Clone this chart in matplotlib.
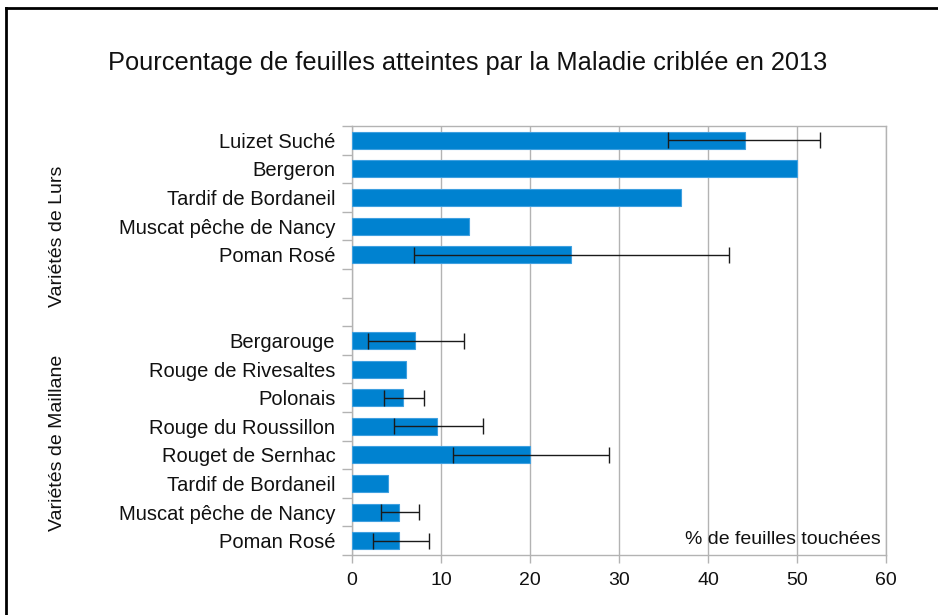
import matplotlib
matplotlib.use("Agg")
import matplotlib.pyplot as plt
import numpy as np
from matplotlib.lines import Line2D

plt.rcParams['font.family'] = ['Liberation Sans', 'DejaVu Sans']

categories = ["Luizet Suché", "Bergeron", "Tardif de Bordaneil", "Muscat pêche de Nancy",
              "Poman Rosé", "", "", "Bergarouge", "Rouge de Rivesaltes", "Polonais",
              "Rouge du Roussillon", "Rouget de Sernhac", "Tardif de Bordaneil",
              "Muscat pêche de Nancy", "Poman Rosé"]
values = [44.2, 50.0, 37.0, 13.1, 24.6, np.nan, np.nan, 7.1, 6.1, 5.7, 9.6, 20.0, 4.0, 5.3, 5.3]
err_low = [8.7, np.nan, np.nan, np.nan, 17.6, np.nan, np.nan, 5.3, np.nan, 2.1, 4.9, 8.7, np.nan, 2.0, 2.9]
err_high = [8.4, np.nan, np.nan, np.nan, 17.8, np.nan, np.nan, 5.5, np.nan, 2.4, 5.1, 8.9, np.nan, 2.2, 3.4]
xticks = [0, 10, 20, 30, 40, 50, 60]
title = "Pourcentage de feuilles atteintes par la Maladie criblée en 2013"
groups = ["Variétés de Lurs", "Variétés de Maillane"]
note = "% de feuilles touchées"

W, H = 938, 615
fig = plt.figure(figsize=(W / 100, H / 100), dpi=100)
ax = fig.add_axes([352 / W, 1 - 555 / H, (886 - 352) / W, (555 - 126) / H])

n = len(categories)
y = np.arange(n)
vals = np.array(values, dtype=float)
has = ~np.isnan(vals)
ax.barh(y[has], vals[has], height=0.6, color="#0082D0", edgecolor="#3FA0E0", linewidth=0.8, zorder=3)
el = np.array(err_low, dtype=float)
eh = np.array(err_high, dtype=float)
m = ~np.isnan(el)
ax.errorbar(vals[m], y[m], xerr=[el[m], eh[m]], fmt="none", ecolor="#1a1a1a",
            elinewidth=1.0, capsize=6, capthick=1.0, zorder=4)

ax.set_ylim(n - 0.5, -0.5)
ax.set_xlim(0, 60)
ax.set_xticks(xticks)
ax.set_yticks(y)
ax.set_yticklabels(categories, fontsize=14.5, color="#111111")
ax.set_yticks(np.arange(n + 1) - 0.5, minor=True)
ax.tick_params(axis="y", which="major", length=0, pad=12)
ax.tick_params(axis="y", which="minor", length=7, color="#b3b3b3", width=1)
ax.tick_params(axis="x", length=6, color="#b3b3b3", width=1, labelsize=14, pad=6, labelcolor="#111111")
ax.grid(axis="x", color="#b3b3b3", linewidth=1, zorder=0)
ax.set_axisbelow(True)
for s in ["top", "bottom", "left", "right"]:
    ax.spines[s].set_color("#b3b3b3")
    ax.spines[s].set_linewidth(1)

ax.text(0.99, 0.035, note, transform=ax.transAxes, ha="right", va="center", fontsize=14, color="#111111")

fig.text(468 / W, 1 - 63 / H, title, ha="center", va="center", fontsize=18.3, color="#111111")
fig.text(57 / W, 1 - 236 / H, groups[0], rotation=90, ha="center", va="center", fontsize=14, color="#111111")
fig.text(57 / W, 1 - 443 / H, groups[1], rotation=90, ha="center", va="center", fontsize=14, color="#111111")

fig.add_artist(Line2D([6 / W, 6 / W], [0, 1 - 8 / H], color="black", linewidth=2, transform=fig.transFigure))
fig.add_artist(Line2D([6 / W, 1], [1 - 8 / H, 1 - 8 / H], color="black", linewidth=2, transform=fig.transFigure))

fig.savefig("out.png", dpi=100)
